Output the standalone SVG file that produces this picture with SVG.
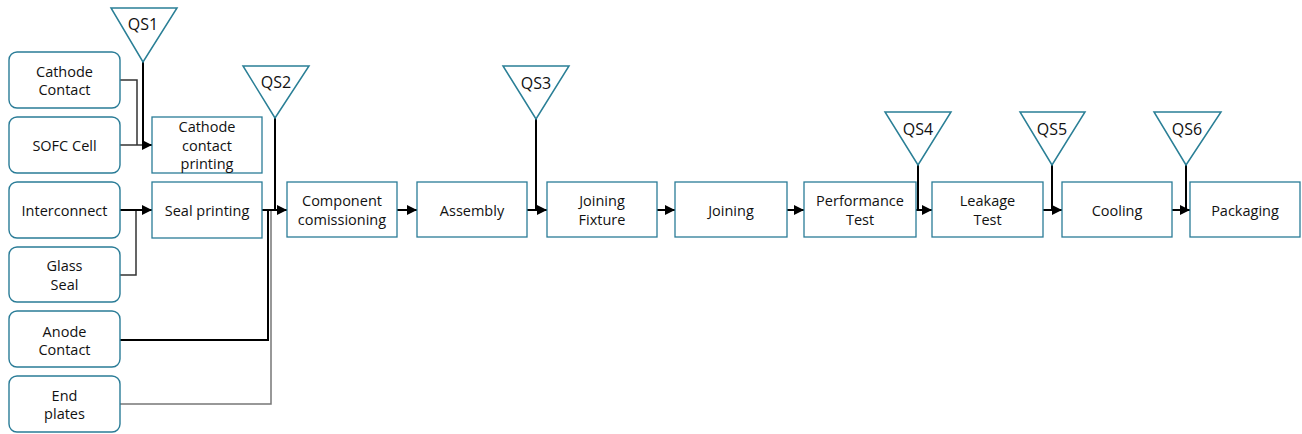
<svg xmlns="http://www.w3.org/2000/svg" width="1302" height="434" viewBox="0 0 1302 434">
<style>
.src{fill:#fff;stroke:#2a7c97;stroke-width:1.4}
.box{fill:#fff;stroke:#2a7c97;stroke-width:1.3}
.qs{fill:#fff;stroke:#2a7f96;stroke-width:1.5}
text{font-family:"Open Sans","DejaVu Sans",sans-serif;font-size:14.5px;fill:#111;text-anchor:middle;dominant-baseline:central}
.q{font-size:16px}
.c{fill:none;stroke:#000;stroke-width:2}
.cg{fill:none;stroke:#333;stroke-width:1.5}
.cl{fill:none;stroke:#777;stroke-width:1.5}
</style>
<defs>
<marker id="ah" viewBox="0 0 10 10" refX="10" refY="5" markerWidth="5" markerHeight="5" orient="auto" markerUnits="strokeWidth">
<path d="M0,0 L10,5 L0,10 z" fill="#000"/>
</marker>
</defs>

<g id="connectors">
<path class="cg" d="M120,80 H137 V145"/>
<path class="cg" d="M120,145 H143"/>
<path class="c" d="M143,62 V145 H152" marker-end="url(#ah)"/>
<path class="cg" d="M120,275 H136 V210"/>
<path class="c" d="M120,210 H152" marker-end="url(#ah)"/>
<path class="c" d="M120,340 H268 V210"/>
<path class="cl" d="M120,404 H271 V210"/>
<path class="c" d="M275,118 V210"/>
<path class="c" d="M262,210 H287" marker-end="url(#ah)"/>
<path class="c" d="M397,210 H417" marker-end="url(#ah)"/>
<path class="c" d="M536,119 V210"/>
<path class="c" d="M527,210 H547" marker-end="url(#ah)"/>
<path class="c" d="M657,210 H675" marker-end="url(#ah)"/>
<path class="c" d="M787,210 H804" marker-end="url(#ah)"/>
<path class="c" d="M918,165 V210"/>
<path class="c" d="M916,210 H932" marker-end="url(#ah)"/>
<path class="c" d="M1052,165 V210"/>
<path class="c" d="M1043,210 H1062" marker-end="url(#ah)"/>
<path class="c" d="M1186,165 V210"/>
<path class="c" d="M1172,210 H1190" marker-end="url(#ah)"/>
</g>

<g id="cathode-contact"><rect class="src" x="9" y="52" width="111" height="56" rx="8"/><text x="64.5" y="71">Cathode</text><text x="64.5" y="89">Contact</text></g>
<g id="sofc-cell"><rect class="src" x="9" y="117" width="111" height="56" rx="8"/><text x="64.5" y="145">SOFC Cell</text></g>
<g id="interconnect"><rect class="src" x="9" y="182" width="111" height="56" rx="8"/><text x="64.5" y="210">Interconnect</text></g>
<g id="glass-seal"><rect class="src" x="9" y="247" width="111" height="55" rx="8"/><text x="64.5" y="265">Glass</text><text x="64.5" y="284">Seal</text></g>
<g id="anode-contact"><rect class="src" x="9" y="311" width="111" height="56" rx="8"/><text x="64.5" y="331">Anode</text><text x="64.5" y="349">Contact</text></g>
<g id="end-plates"><rect class="src" x="9" y="376" width="111" height="56" rx="8"/><text x="64.5" y="395">End</text><text x="64.5" y="413">plates</text></g>

<g id="cathode-contact-printing"><rect class="box" x="152" y="117" width="110" height="56"/><text x="207" y="126">Cathode</text><text x="207" y="145">contact</text><text x="207" y="163">printing</text></g>
<g id="seal-printing"><rect class="box" x="152" y="182" width="110" height="56"/><text x="207" y="210">Seal printing</text></g>
<g id="component-comissioning"><rect class="box" x="287" y="182" width="110" height="55"/><text x="342" y="200">Component</text><text x="342" y="219">comissioning</text></g>
<g id="assembly"><rect class="box" x="417" y="182" width="110" height="55"/><text x="472" y="210">Assembly</text></g>
<g id="joining-fixture"><rect class="box" x="547" y="182" width="110" height="55"/><text x="602" y="200">Joining</text><text x="602" y="219">Fixture</text></g>
<g id="joining"><rect class="box" x="675" y="182" width="112" height="55"/><text x="731" y="210">Joining</text></g>
<g id="performance-test"><rect class="box" x="804" y="182" width="112" height="55"/><text x="860" y="200">Performance</text><text x="860" y="219">Test</text></g>
<g id="leakage-test"><rect class="box" x="932" y="182" width="111" height="55"/><text x="987.5" y="200">Leakage</text><text x="987.5" y="219">Test</text></g>
<g id="cooling"><rect class="box" x="1062" y="182" width="110" height="55"/><text x="1117" y="210">Cooling</text></g>
<g id="packaging"><rect class="box" x="1190" y="182" width="110" height="55"/><text x="1245" y="210">Packaging</text></g>

<g id="qs1"><polygon class="qs" points="111,8 177,8 143,62"/><text class="q" x="143" y="24">QS1</text></g>
<g id="qs2"><polygon class="qs" points="243,66 309,66 275,118"/><text class="q" x="276" y="82">QS2</text></g>
<g id="qs3"><polygon class="qs" points="503,66 569,66 536,119"/><text class="q" x="536" y="83">QS3</text></g>
<g id="qs4"><polygon class="qs" points="885,112 951,112 918,165"/><text class="q" x="918" y="129">QS4</text></g>
<g id="qs5"><polygon class="qs" points="1020,112 1085,112 1052,165"/><text class="q" x="1052" y="129">QS5</text></g>
<g id="qs6"><polygon class="qs" points="1154,112 1221,112 1186,165"/><text class="q" x="1187" y="129">QS6</text></g>
</svg>
